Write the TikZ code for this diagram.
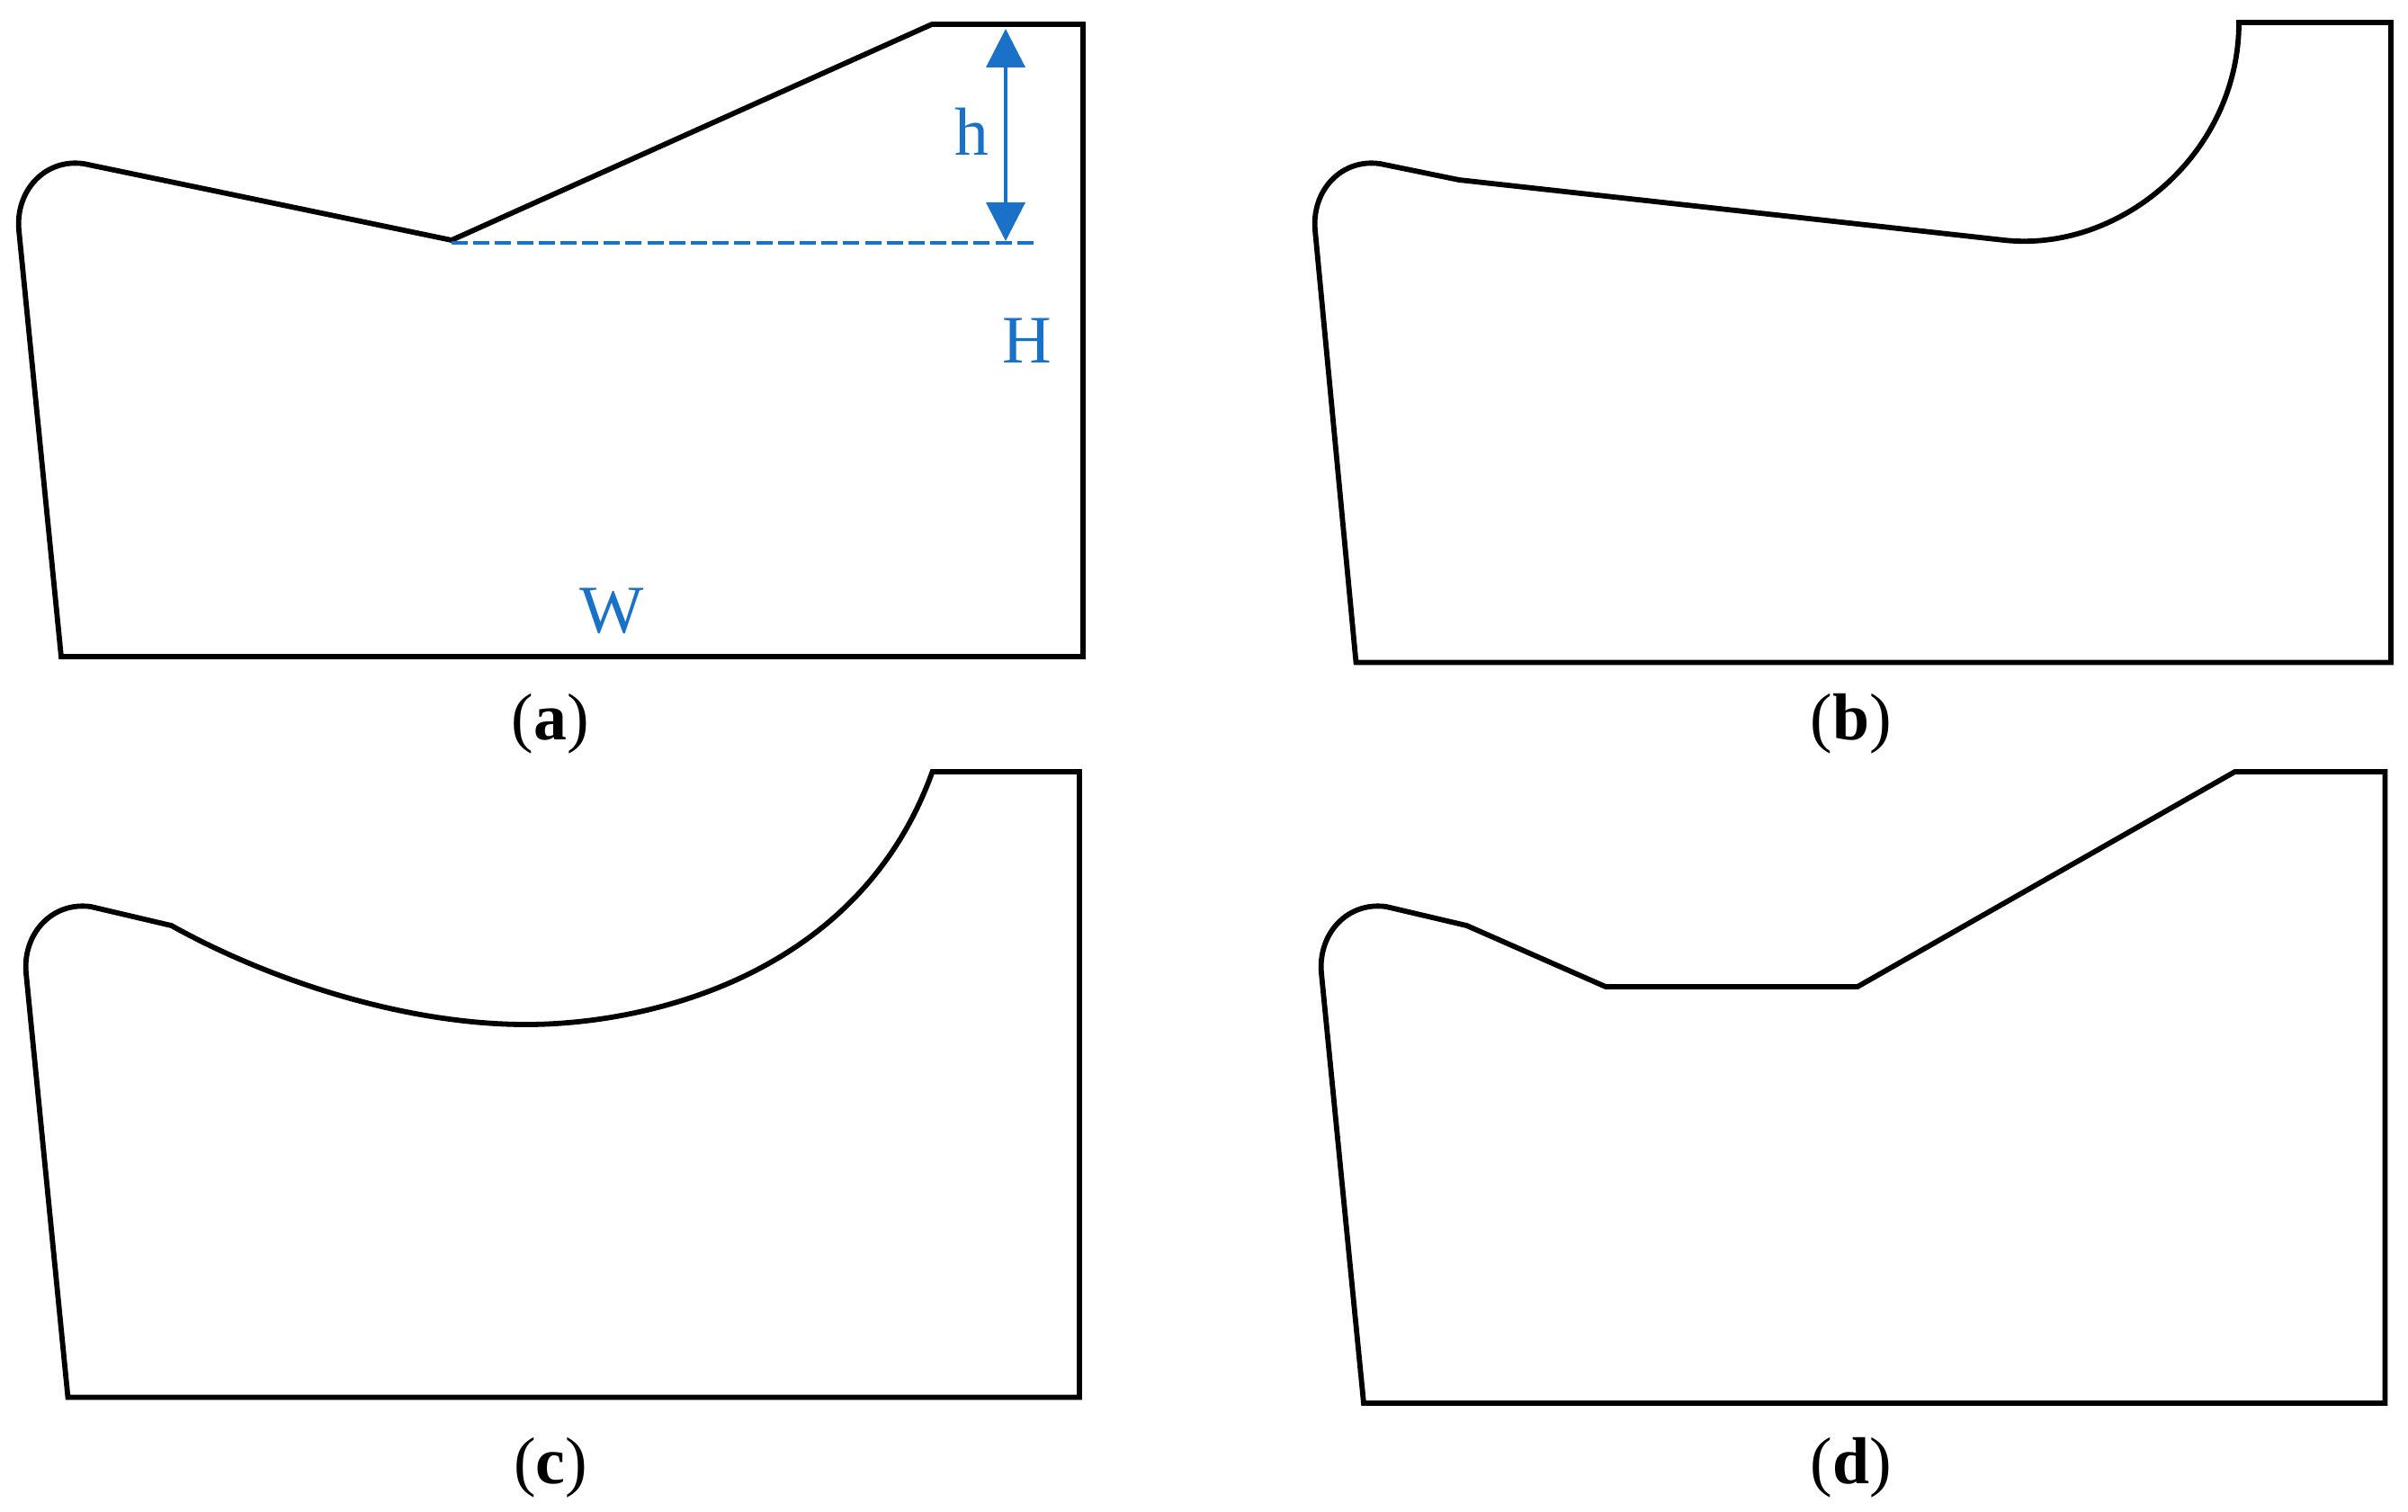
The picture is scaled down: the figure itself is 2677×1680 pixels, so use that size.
\documentclass[tikz,border=0pt]{standalone}
\usepackage{fontspec}
\setmainfont{Liberation Serif}
\usetikzlibrary{arrows.meta}
\definecolor{dimblue}{HTML}{1A72C8}
\tikzset{
  x=0.02cm,y=-0.02cm,
  outline/.style={draw=black,line width=0.116cm,line join=miter},
  dimline/.style={draw=dimblue,line width=0.08cm},
  dimlabel/.style={text=dimblue,font=\fontsize{43}{43}\selectfont,anchor=base,inner sep=0pt},
  caption/.style={text=black,font=\fontsize{42}{42}\selectfont,anchor=base,inner sep=0pt}
}
\begin{document}
\begin{tikzpicture}
\useasboundingbox (0,0) rectangle (2677,1680);
% panel a
\draw[outline] (21,256) .. controls (17,212) and (50,176) .. (93,182)
  -- (502,267) -- (1036,27) -- (1204,27) -- (1204,730) -- (68,730) -- cycle;
% panel b
\draw[outline] (1462,256) .. controls (1458,212) and (1491,176) .. (1534,182)
  -- (1622,200) -- (2228,267) .. controls (2358,281) and (2489,170) .. (2489,25)
  -- (2658,25) -- (2658,736.5) -- (1507.5,736.5) -- cycle;
% panel c
\draw[outline] (29,1082) .. controls (25,1038) and (58,1002) .. (101,1008)
  -- (190.5,1029) .. controls (300,1090) and (450,1139) .. (585,1139)
  .. controls (720,1139) and (955,1085) .. (1036.5,858)
  -- (1200,858) -- (1200,1553.5) -- (75.5,1553.5) -- cycle;
% panel d
\draw[outline] (1469,1082) .. controls (1465,1038) and (1498,1002) .. (1541,1008)
  -- (1630.5,1029) -- (1785,1097) -- (2065,1097) -- (2484.5,858)
  -- (2651.5,858) -- (2651.5,1560) -- (1516,1560) -- cycle;
% dimensions
\coordinate (dashL) at (502,270);
\coordinate (dashR) at (1149,270);
\coordinate (hTop) at (1118,32);
\coordinate (hBot) at (1118,268);
\draw[dimline,dash pattern=on 0.36cm off 0.1238cm] (dashL) -- (dashR);
\draw[dimline,{Triangle[length=0.86cm,width=0.86cm]}-{Triangle[length=0.86cm,width=0.86cm]}] (hTop) -- (hBot);
\node[dimlabel] (hlabel) at (1080,172) {h};
\node[dimlabel] (Hlabel) at (1142,403) {H};
\node[dimlabel] (Wlabel) at (680,703) {W};
% captions
\node[caption] (capa) at (612,822) {(\textbf{a})};
\node[caption] (capb) at (2058,822) {(\textbf{b})};
\node[caption] (capc) at (612,1649) {(\textbf{c})};
\node[caption] (capd) at (2058,1649) {(\textbf{d})};
\end{tikzpicture}
\end{document}
